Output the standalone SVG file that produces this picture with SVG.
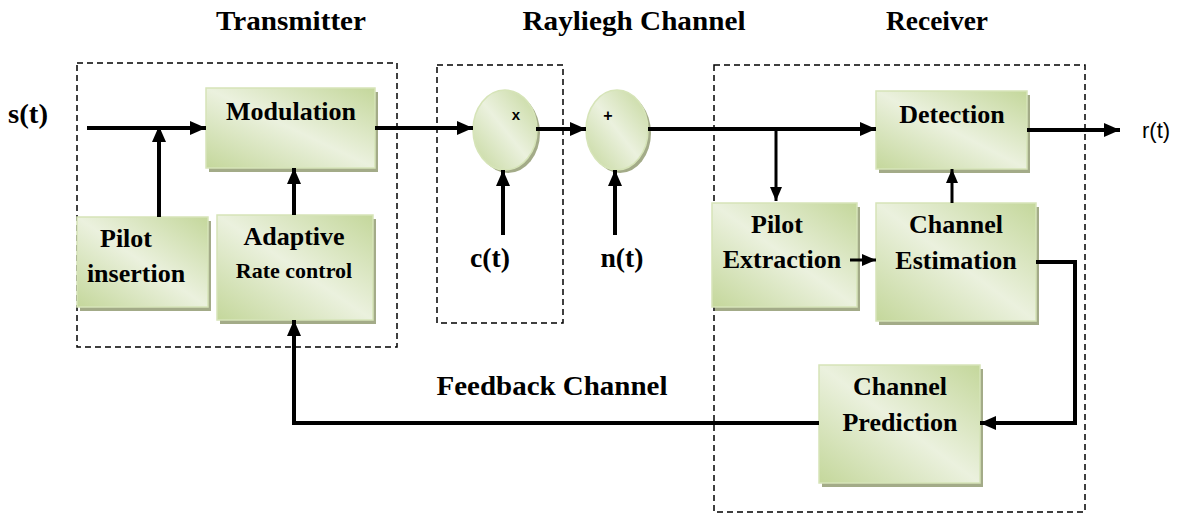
<svg xmlns="http://www.w3.org/2000/svg" width="1177" height="515" viewBox="0 0 1177 515">
<style>
.lbl{font-family:"Liberation Serif","Times New Roman",serif;font-weight:bold;fill:#000;text-anchor:middle}
.box{fill:url(#g);stroke:#d6e4b8;stroke-width:1.5}
.sh{fill:#a3ab88}
.dash{fill:none;stroke:#000;stroke-width:1.5;stroke-dasharray:6 4}
.ln{fill:none;stroke:#000;stroke-width:4}
.tn{fill:none;stroke:#000;stroke-width:3}
</style>
<defs>
<linearGradient id="g" x1="1" y1="0" x2="0" y2="1">
<stop offset="0" stop-color="#c4d79b"/>
<stop offset="0.5" stop-color="#ebf1de"/>
<stop offset="1" stop-color="#c4d79b"/>
</linearGradient>
<marker id="a" markerUnits="userSpaceOnUse" markerWidth="16" markerHeight="14" refX="16" refY="7" orient="auto">
<path d="M0,0 L16,7 L0,14 z" fill="#000"/>
</marker>
<marker id="s" markerUnits="userSpaceOnUse" markerWidth="14" markerHeight="12" refX="14" refY="6" orient="auto">
<path d="M0,0 L14,6 L0,12 z" fill="#000"/>
</marker>
</defs>
<rect width="1177" height="515" fill="#fff"/>

<g id="titles">
<text class="lbl" x="291" y="30" font-size="28" textLength="150" lengthAdjust="spacingAndGlyphs">Transmitter</text>
<text class="lbl" x="634" y="30" font-size="28" textLength="223" lengthAdjust="spacingAndGlyphs">Rayliegh Channel</text>
<text class="lbl" x="937" y="30" font-size="28" textLength="102" lengthAdjust="spacingAndGlyphs">Receiver</text>
<text class="lbl" x="28" y="123" font-size="27" textLength="40" lengthAdjust="spacingAndGlyphs">s(t)</text>
<text class="lbl" x="552" y="395" font-size="27" textLength="231" lengthAdjust="spacingAndGlyphs">Feedback Channel</text>
<text x="1142" y="138" font-family="'Liberation Sans',Arial,sans-serif" font-size="22" fill="#000">r(t)</text>
<text class="lbl" x="490" y="267" font-size="27" textLength="40" lengthAdjust="spacingAndGlyphs">c(t)</text>
<text class="lbl" x="622" y="267" font-size="27" textLength="43" lengthAdjust="spacingAndGlyphs">n(t)</text>
</g>

<g id="regions">
<rect class="dash" x="77" y="63" width="320" height="284"/>
<rect class="dash" x="437" y="65" width="126" height="258"/>
<rect class="dash" x="714" y="65" width="371" height="447"/>
</g>

<g id="modulation">
<rect class="sh" x="209" y="92" width="169" height="80"/>
<rect class="box" x="206" y="88" width="169" height="80"/>
<text class="lbl" x="291" y="120" font-size="26">Modulation</text>
</g>
<g id="pilot-insertion">
<rect class="sh" x="80" y="221" width="131" height="90"/>
<rect class="box" x="77" y="217" width="131" height="90"/>
<text class="lbl" x="126" y="247" font-size="26">Pilot</text>
<text class="lbl" x="136" y="282" font-size="26">insertion</text>
</g>
<g id="adaptive">
<rect class="sh" x="220" y="219" width="156" height="105"/>
<rect class="box" x="217" y="215" width="156" height="105"/>
<text class="lbl" x="294" y="245" font-size="26">Adaptive</text>
<text class="lbl" x="294" y="278" font-size="22">Rate control</text>
</g>
<g id="mult">
<ellipse class="sh" cx="508" cy="133" rx="32" ry="40"/>
<ellipse class="box" cx="505" cy="130" rx="32" ry="40"/>
<text x="516" y="120" font-family="'Liberation Sans',Arial,sans-serif" font-weight="bold" font-size="15" text-anchor="middle">x</text>
</g>
<g id="add">
<ellipse class="sh" cx="620" cy="133" rx="31" ry="40"/>
<ellipse class="box" cx="617" cy="130" rx="31" ry="40"/>
<text x="608" y="121" font-family="'Liberation Sans',Arial,sans-serif" font-weight="bold" font-size="16" text-anchor="middle">+</text>
</g>
<g id="detection">
<rect class="sh" x="879" y="95" width="151" height="78"/>
<rect class="box" x="876" y="91" width="151" height="78"/>
<text class="lbl" x="952" y="123" font-size="26">Detection</text>
</g>
<g id="pilot-extraction">
<rect class="sh" x="715" y="207" width="145" height="104"/>
<rect class="box" x="712" y="203" width="145" height="104"/>
<text class="lbl" x="777" y="233" font-size="26">Pilot</text>
<text class="lbl" x="782" y="268" font-size="26">Extraction</text>
</g>
<g id="channel-estimation">
<rect class="sh" x="879" y="207" width="160" height="118"/>
<rect class="box" x="876" y="203" width="160" height="118"/>
<text class="lbl" x="956" y="233" font-size="26">Channel</text>
<text class="lbl" x="956" y="269" font-size="26">Estimation</text>
</g>
<g id="channel-prediction">
<rect class="sh" x="822" y="369" width="161" height="118"/>
<rect class="box" x="819" y="365" width="161" height="118"/>
<text class="lbl" x="900" y="395" font-size="26">Channel</text>
<text class="lbl" x="900" y="431" font-size="26">Prediction</text>
</g>

<g id="connectors">
<path class="ln" d="M87,128 H206" marker-end="url(#a)"/>
<path class="ln" d="M159,217 V126" marker-end="url(#a)"/>
<path class="ln" d="M294,215 V168" marker-end="url(#a)"/>
<path class="ln" d="M375,128 H473" marker-end="url(#a)"/>
<path class="ln" d="M536,129 H586" marker-end="url(#a)"/>
<path class="ln" d="M648,129 H876" marker-end="url(#a)"/>
<path class="tn" d="M776,129 V201" marker-end="url(#s)"/>
<path class="ln" d="M503,235 V170" marker-end="url(#a)"/>
<path class="ln" d="M615,235 V170" marker-end="url(#a)"/>
<path class="tn" d="M850,260 H876" marker-end="url(#s)"/>
<path class="tn" d="M952,203 V169" marker-end="url(#s)"/>
<path class="ln" d="M1036,262 H1075 V423 H980" marker-end="url(#a)"/>
<path class="ln" d="M819,423 H294 V320" marker-end="url(#a)"/>
<path class="ln" d="M1027,130 H1120" marker-end="url(#a)"/>
</g>
</svg>
